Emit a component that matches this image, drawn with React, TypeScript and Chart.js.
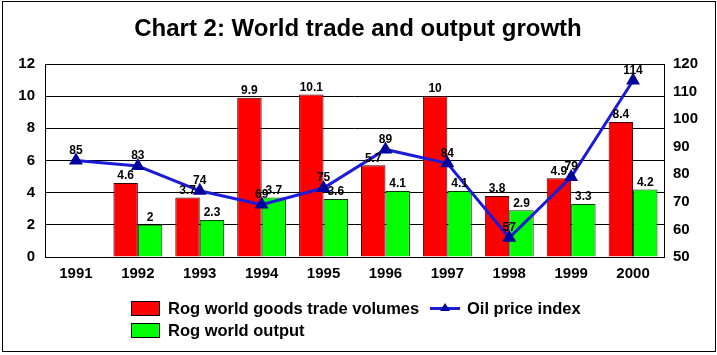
import React, { useEffect, useRef } from "react";
import { Chart, registerables } from "chart.js";

Chart.register(...registerables);

const years = ["1991", "1992", "1993", "1994", "1995", "1996", "1997", "1998", "1999", "2000"];
const tradeVolumes: (number | null)[] = [null, 4.6, 3.7, 9.9, 10.1, 5.7, 10, 3.8, 4.9, 8.4];
const worldOutput: (number | null)[] = [null, 2, 2.3, 3.7, 3.6, 4.1, 4.1, 2.9, 3.3, 4.2];
const oilPrice: number[] = [85, 83, 74, 69, 75, 89, 84, 57, 79, 114];
const titleText = "Chart 2: World trade and output growth";
const tradeLabel = "Rog world goods trade volumes";
const outputLabel = "Rog world output";
const oilLabel = "Oil price index";

const FONT = "Arial, 'Liberation Sans', sans-serif";

const decorPlugin = {
  id: "decor",
  beforeDatasetsDraw(chart: any) {
    const { ctx, chartArea } = chart;
    ctx.save();
    ctx.strokeStyle = "#000";
    ctx.lineWidth = 1;
    ctx.strokeRect(
      Math.round(chartArea.left) + 0.5,
      Math.round(chartArea.top) + 0.5,
      Math.round(chartArea.right - chartArea.left),
      Math.round(chartArea.bottom - chartArea.top)
    );
    ctx.restore();
  },
  afterDatasetsDraw(chart: any) {
    const { ctx } = chart;
    ctx.save();
    ctx.fillStyle = "#000";
    ctx.font = `bold 12px ${FONT}`;
    ctx.textAlign = "center";
    ctx.textBaseline = "bottom";
    chart.data.datasets.forEach((ds: any, di: number) => {
      const meta = chart.getDatasetMeta(di);
      meta.data.forEach((el: any, i: number) => {
        const v = ds.data[i];
        if (v === null || v === undefined) return;
        const off = ds.type === "line" ? 4 : 1;
        ctx.fillText(String(v), el.x, el.y - off);
      });
    });
    ctx.restore();
  },
  afterDraw(chart: any) {
    const { ctx } = chart;
    const ds = chart.data.datasets;
    ctx.save();
    // frame
    ctx.strokeStyle = "#000";
    ctx.lineWidth = 1;
    ctx.strokeRect(2.5, 1.5, 713, 350);
    // title
    ctx.fillStyle = "#000";
    ctx.font = `bold 24px ${FONT}`;
    ctx.textAlign = "center";
    ctx.textBaseline = "middle";
    ctx.fillText(titleText, 358, 29);
    // legend
    ctx.font = `bold 16.5px ${FONT}`;
    ctx.textAlign = "left";
    const trade = ds.find((d: any) => d.label === tradeLabel);
    const output = ds.find((d: any) => d.label === outputLabel);
    const oil = ds.find((d: any) => d.label === oilLabel);
    ctx.fillStyle = trade.backgroundColor;
    ctx.fillRect(131, 301, 29, 15);
    ctx.strokeStyle = "#000";
    ctx.strokeRect(131.5, 301.5, 28, 14);
    ctx.fillStyle = "#000";
    ctx.fillText(trade.label, 168, 309);
    ctx.fillStyle = output.backgroundColor;
    ctx.fillRect(131, 323, 29, 15);
    ctx.strokeRect(131.5, 323.5, 28, 14);
    ctx.fillStyle = "#000";
    ctx.fillText(output.label, 168, 331);
    // line legend
    ctx.strokeStyle = oil.borderColor;
    ctx.lineWidth = 3;
    ctx.beginPath();
    ctx.moveTo(430, 308.5);
    ctx.lineTo(460, 308.5);
    ctx.stroke();
    ctx.fillStyle = oil.pointBackgroundColor;
    ctx.beginPath();
    ctx.moveTo(445, 303);
    ctx.lineTo(450, 311);
    ctx.lineTo(440, 311);
    ctx.closePath();
    ctx.fill();
    ctx.fillStyle = "#000";
    ctx.fillText(oil.label, 467, 309);
    ctx.restore();
  },
};

export default function App() {
  const ref = useRef<HTMLCanvasElement>(null);
  useEffect(() => {
    document.body.style.margin = "0";
    const chart = new Chart(ref.current as HTMLCanvasElement, {
      type: "bar",
      data: {
        labels: years,
        datasets: [
          {
            type: "line",
            label: oilLabel,
            data: oilPrice,
            yAxisID: "y1",
            borderColor: "#1c1cd6",
            borderWidth: 3,
            pointStyle: "triangle",
            pointRadius: 5,
            pointBackgroundColor: "#00009c",
            pointBorderColor: "#00009c",
            tension: 0,
            order: 0,
          } as any,
          {
            type: "bar",
            label: tradeLabel,
            data: tradeVolumes,
            yAxisID: "y",
            backgroundColor: "#ff0000",
            borderColor: "#3a0000",
            borderWidth: 1,
            order: 1,
          },
          {
            type: "bar",
            label: outputLabel,
            data: worldOutput,
            yAxisID: "y",
            backgroundColor: "#00ff00",
            borderColor: "#003a00",
            borderWidth: 1,
            order: 1,
          },
        ],
      },
      options: {
        responsive: false,
        animation: false,
        layout: { padding: { top: 64, left: 0, right: 0, bottom: 0 } },
        datasets: { bar: { categoryPercentage: 0.79, barPercentage: 1.0 } },
        plugins: {
          legend: { display: false },
          title: { display: false },
          tooltip: { enabled: false },
        },
        scales: {
          x: {
            grid: { display: false, drawTicks: false },
            border: { display: false },
            ticks: { color: "#000", font: { family: FONT, size: 15, weight: "bold" }, padding: 8, maxRotation: 0 },
            afterFit: (s: any) => { s.height = 98; },
          },
          y: {
            position: "left",
            min: 0,
            max: 12,
            ticks: { stepSize: 2, color: "#000", font: { family: FONT, size: 15, weight: "bold" }, padding: 10 },
            grid: { color: "#000", lineWidth: 1, drawTicks: false },
            border: { display: false },
            afterFit: (s: any) => { s.width = 45; },
          },
          y1: {
            position: "right",
            min: 50,
            max: 120,
            ticks: { stepSize: 10, color: "#000", font: { family: FONT, size: 15, weight: "bold" }, padding: 9 },
            grid: { display: false, drawTicks: false },
            border: { display: false },
            afterFit: (s: any) => { s.width = 53; },
          },
        },
      } as any,
      plugins: [decorPlugin],
    });
    return () => chart.destroy();
  }, []);
  return (
    <div style={{ position: "absolute", left: 0, top: 0, width: 717, height: 355, background: "#fff" }}>
      <canvas ref={ref} width={717} height={355} />
    </div>
  );
}
